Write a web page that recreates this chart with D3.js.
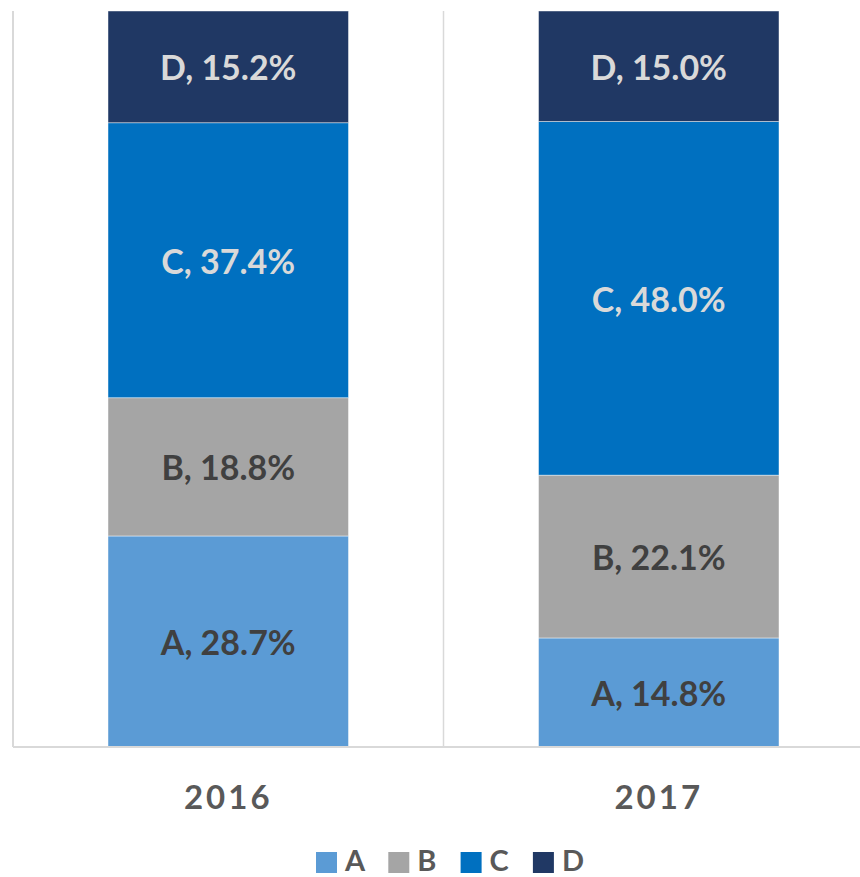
<!DOCTYPE html>
<html>
<head>
<meta charset="utf-8">
<script src="https://cdn.jsdelivr.net/npm/d3@7"></script>
<style>
  body { margin: 0; background: #fff; }
  svg text { font-family: Lato, "Open Sans", sans-serif; font-weight: bold; }
</style>
</head>
<body>
<div class="chart"></div>
<script>
var w = 860;
var h = 877;

// data
var years = ["2016", "2017"];
var series = ["A", "B", "C", "D"];
var valsA = [28.7, 14.8];
var valsB = [18.8, 22.1];
var valsC = [37.4, 48.0];
var valsD = [15.2, 15.0];

var colors = ["#5b9bd5", "#a5a5a5", "#0070c0", "#203864"];
var labelColors = ["#404040", "#404040", "#d9d9d9", "#d9d9d9"];

var rows = years.map(function(y, i) {
    return {year: y, A: valsA[i], B: valsB[i], C: valsC[i], D: valsD[i]};
});

var plot = {left: 13, right: 874, top: 11, bottom: 747};

var x = d3.scaleBand()
          .domain(years)
          .range([plot.left, plot.right])
          .paddingInner(0)
          .paddingOuter(0);

var y = d3.scaleLinear()
          .domain([0, 1])
          .range([plot.bottom, plot.top]);

var stack = d3.stack()
              .keys(series)
              .offset(d3.stackOffsetExpand);

var stacked = stack(rows);

var svg = d3.select('.chart')
            .append("svg")
            .attr("width", w)
            .attr("height", h);

// category separator gridline
svg.append("line")
   .attr("x1", x("2017")).attr("x2", x("2017"))
   .attr("y1", plot.top).attr("y2", plot.bottom)
   .attr("stroke", "#d9d9d9")
   .attr("stroke-width", 1.5);

var barW = 240.5;

var groups = svg.selectAll("g.series")
    .data(stacked)
    .enter()
    .append("g")
    .attr("class", "series");

groups.selectAll("rect")
    .data(function(d) { return d.map(function(p) { return {p: p, key: d.key, idx: d.index}; }); })
    .enter()
    .append("rect")
    .attr("x", function(d) { return x(d.p.data.year) + x.bandwidth() / 2 - barW / 2; })
    .attr("y", function(d) { return y(d.p[1]); })
    .attr("width", barW)
    .attr("height", function(d) { return y(d.p[0]) - y(d.p[1]); })
    .attr("fill", function(d) { return colors[d.idx]; })
    .attr("stroke", "#ffffff")
    .attr("stroke-opacity", 0.6)
    .attr("stroke-width", 0.75);

groups.selectAll("text")
    .data(function(d) { return d.map(function(p) { return {p: p, key: d.key, idx: d.index}; }); })
    .enter()
    .append("text")
    .attr("x", function(d) { return x(d.p.data.year) + x.bandwidth() / 2; })
    .attr("y", function(d) { return (y(d.p[0]) + y(d.p[1])) / 2; })
    .attr("text-anchor", "middle")
    .attr("dominant-baseline", "central")
    .attr("font-size", 34)
    .attr("fill", function(d) { return labelColors[d.idx]; })
    .text(function(d) { return d.key + ", " + d.p.data[d.key].toFixed(1) + "%"; });

// axes lines
svg.append("line")
   .attr("x1", plot.left).attr("x2", w)
   .attr("y1", plot.bottom).attr("y2", plot.bottom)
   .attr("stroke", "#d9d9d9")
   .attr("stroke-width", 2);

svg.append("line")
   .attr("x1", plot.left).attr("x2", plot.left)
   .attr("y1", plot.top).attr("y2", plot.bottom)
   .attr("stroke", "#d9d9d9")
   .attr("stroke-width", 2);

// year labels
svg.selectAll("text.year")
   .data(years)
   .enter()
   .append("text")
   .attr("class", "year")
   .attr("x", function(d) { return x(d) + x.bandwidth() / 2; })
   .attr("y", 796)
   .attr("text-anchor", "middle")
   .attr("dominant-baseline", "central")
   .attr("font-size", 33)
   .attr("letter-spacing", 3)
   .attr("fill", "#595959")
   .text(function(d) { return d; });

// legend
var legendX = 316, legendStep = 72.3;
var legend = svg.selectAll("g.legend")
    .data(series)
    .enter()
    .append("g")
    .attr("class", "legend")
    .attr("transform", function(d, i) { return "translate(" + (legendX + i * legendStep) + ",852)"; });

legend.append("rect")
    .attr("width", 21)
    .attr("height", 21)
    .attr("fill", function(d, i) { return colors[i]; });

legend.append("text")
    .attr("x", 29)
    .attr("y", 19)
    .attr("font-size", 29)
    .attr("fill", "#595959")
    .text(function(d) { return d; });
</script>
</body>
</html>
